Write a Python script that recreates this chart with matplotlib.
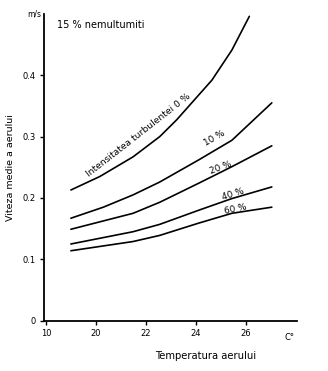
import matplotlib
matplotlib.use("Agg")
import matplotlib.pyplot as plt

# Air temperature (°C) and mean air speed (m/s) for each turbulence intensity
t_0 = [19.0, 20.16, 21.49, 22.56, 23.23, 24.65, 25.45, 26.15]
v_0 = [0.213, 0.235, 0.267, 0.300, 0.327, 0.392, 0.441, 0.496]

t_10 = [19.0, 20.3, 21.49, 22.56, 24.12, 25.45, 27.05]
v_10 = [0.167, 0.185, 0.205, 0.226, 0.262, 0.294, 0.355]

t_20 = [19.0, 21.49, 22.56, 24.12, 25.45, 27.05]
v_20 = [0.149, 0.175, 0.193, 0.224, 0.251, 0.285]

t_40 = [19.0, 21.49, 22.56, 24.12, 25.45, 27.05]
v_40 = [0.125, 0.145, 0.157, 0.180, 0.199, 0.218]

t_60 = [19.0, 21.49, 22.56, 24.12, 25.45, 27.05]
v_60 = [0.114, 0.129, 0.139, 0.159, 0.175, 0.185]

x_ticks = [18, 20, 22, 24, 26]
x_tick_labels = ["10", "20", "22", "24", "26"]
y_ticks = [0.0, 0.1, 0.2, 0.3, 0.4]
y_tick_labels = ["0", "0.1", "0.2", "0.3", "0.4"]

plt.rcParams["font.family"] = ["DejaVu Sans"]

fig = plt.figure(figsize=(3.28, 3.71), dpi=100)
ax = fig.add_axes([0.134, 0.1356, 0.77, 0.827])

for t, v in [(t_0, v_0), (t_10, v_10), (t_20, v_20), (t_40, v_40), (t_60, v_60)]:
    ax.plot(t, v, color="black", lw=1.2, solid_capstyle="round",
            solid_joinstyle="round")

ax.set_xlim(17.92, 28.04)
ax.set_ylim(0, 0.5)

for s in ["top", "right"]:
    ax.spines[s].set_visible(False)
for s in ["left", "bottom"]:
    ax.spines[s].set_linewidth(1.3)

ax.set_xticks(x_ticks)
ax.set_xticklabels(x_tick_labels, fontsize=6)
ax.set_yticks(y_ticks)
ax.set_yticklabels(y_tick_labels, fontsize=6)
ax.tick_params(axis="both", length=3, width=1, direction="out", pad=3)

ax.text(27.75, -0.028, "C°", fontsize=6, ha="center", va="center", clip_on=False)

ax.text(-0.01, 1.0, "m/s", transform=ax.transAxes, fontsize=5.5,
        ha="right", va="center")
ax.text(0.05, 0.965, "15 % nemultumiti", transform=ax.transAxes,
        fontsize=7, ha="left", va="center")

ax.set_xlabel("Temperatura aerului", fontsize=7.2, labelpad=9, x=0.64)
ax.set_ylabel("Viteza medie a aerului", fontsize=6.8, labelpad=5, y=0.5)

lbl = dict(ha="center", va="center", rotation_mode="anchor")
ax.text(21.7, 0.302, "Intensitatea turbulentei 0 %", rotation=38,
        fontsize=6.6, **lbl)
ax.text(24.75, 0.297, "10 %", rotation=30, fontsize=6.4, **lbl)
ax.text(25.0, 0.250, "20 %", rotation=20, fontsize=6.4, **lbl)
ax.text(25.5, 0.206, "40 %", rotation=17, fontsize=6.4, **lbl)
ax.text(25.6, 0.182, "60 %", rotation=12, fontsize=6.4, **lbl)

fig.savefig("out.png", dpi=100)
